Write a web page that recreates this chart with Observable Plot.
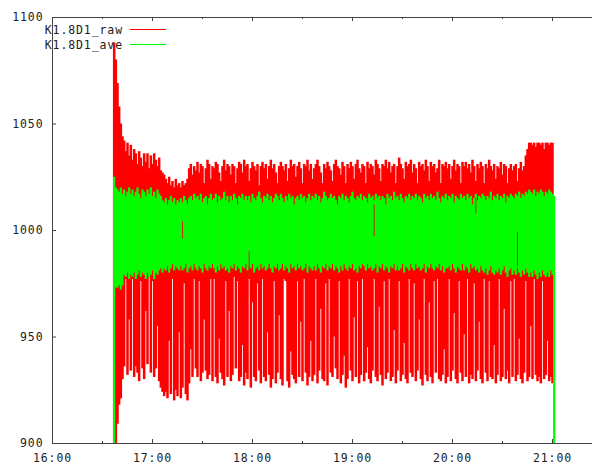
<!DOCTYPE html>
<html><head><meta charset="utf-8">
<script src="https://cdn.jsdelivr.net/npm/d3@7"></script>
<script src="https://cdn.jsdelivr.net/npm/@observablehq/plot@0.6"></script>
<style>
html,body{margin:0;padding:0;background:#fff;}
#wrap{position:relative;width:592px;height:465px;overflow:hidden;}
#wrap svg text{letter-spacing:0.9px;}
.lg{position:absolute;font:11.5px "DejaVu Sans Mono",monospace;letter-spacing:0.9px;color:#222;line-height:16px;white-space:nowrap;}
.lgt{position:absolute;right:469px;}
.lgl{position:absolute;left:130px;width:36px;height:1px;}
</style>
</head><body>
<div id="wrap"></div>
<script>
// time of first sample, minutes after 16:00; one sample per minute
const startMinute = 37;

// K1.8D1_raw: per-minute max and min
const rawHi = [
1088,1080,1069,1058,1050,1044,1042,1037,1041,1035,
1040,1033,1038,1036,1031,1037,1034,1030,1036,1032,
1036,1029,1035,1031,1036,1033,1030,1034,1028,1027,
1026,1024,1022,1025,1021,1023,1020,1024,1021,1022,
1020,1023,1021,1022,1024,1029,1031,1026,1030,1028,
1032,1027,1031,1030,1022,1029,1033,1031,1024,1030,
1029,1032,1031,1027,1023,1030,1033,1028,1031,1030,
1026,1031,1030,1022,1029,1032,1031,1027,1033,1030,
1031,1023,1029,1032,1030,1028,1031,1021,1030,1032,
1029,1031,1024,1030,1033,1029,1031,1027,1022,1030,
1032,1030,1028,1031,1023,1029,1033,1030,1031,1025,
1030,1032,1029,1022,1031,1030,1033,1028,1031,1024,
1029,1031,1033,1030,1027,1022,1031,1029,1032,1030,
1028,1023,1031,1033,1030,1029,1026,1032,1030,1022,
1031,1029,1032,1030,1024,1031,1033,1029,1027,1031,
1030,1022,1032,1029,1031,1030,1026,1033,1031,1029,
1023,1031,1030,1033,1029,1032,1027,1030,1031,1022,
1030,1034,1031,1029,1024,1032,1030,1031,1033,1027,
1031,1029,1022,1032,1030,1031,1028,1033,1030,1023,
1032,1030,1031,1027,1029,1033,1022,1031,1030,1032,
1029,1031,1024,1030,1033,1028,1031,1030,1022,1032,
1030,1032,1029,1031,1027,1033,1030,1023,1031,1029,
1032,1030,1022,1031,1029,1033,1030,1028,1031,1024,
1030,1029,1032,1026,1031,1030,1022,1029,1031,1028,
1030,1031,1023,1029,1032,1028,1030,1035,1038,1041,
1041,1040,1041,1039,1041,1041,1040,1041,1038,1041,
1041,1040,1041,1041
];
const rawLo = [
900,900,909,918,921,930,936,977,932,958,
934,977,931,936,933,929,976,935,930,962,
937,978,933,976,931,935,955,929,926,924,
922,924,921,948,923,977,920,925,922,952,
921,926,975,923,920,928,944,931,977,935,
931,976,929,933,958,934,930,932,977,929,
977,931,928,949,933,930,927,976,931,962,
929,932,978,935,976,929,931,946,927,933,
930,977,926,966,931,929,975,934,928,977,
931,929,952,932,926,930,976,928,933,960,
930,927,977,976,929,926,943,932,930,928,
976,931,957,929,977,933,927,931,948,929,
932,977,928,934,963,930,929,975,927,977,
933,931,950,935,930,976,928,932,941,926,
930,977,934,929,959,931,976,928,932,977,
929,933,945,930,928,934,977,931,929,964,
932,927,976,930,933,977,929,931,953,928,
934,976,929,932,947,930,928,977,933,931,
975,929,934,958,930,927,977,932,929,966,
931,928,976,933,977,930,929,932,944,928,
931,977,929,934,961,930,928,976,933,929,
951,931,977,928,932,930,975,929,934,957,
930,928,977,933,929,976,931,930,946,928,
932,977,929,931,963,930,934,928,976,931,
977,929,932,949,930,928,933,976,929,931,
955,930,977,932,929,931,928,976,930,932,
948,929,931,928
];

// K1.8D1_ave: per-minute max and min
const aveHi = [
1025,1020,1019,1018,1020,1017,1019,1016,1018,1020,
1017,1019,1016,1018,1020,1017,1015,1019,1018,1016,
1019,1017,1020,1016,1018,1015,1019,1017,1016,1014,
1013,1015,1012,1014,1016,1013,1015,1012,1014,1013,
1015,1013,1016,1014,1012,1015,1016,1014,1017,1015,
1016,1014,1017,1013,1015,1016,1012,1015,1017,1014,
1015,1017,1013,1016,1014,1015,1018,1014,1016,1013,
1016,1014,1017,1015,1012,1016,1015,1017,1014,1016,
1014,1016,1013,1017,1015,1014,1016,1018,1015,1013,
1016,1015,1017,1014,1016,1013,1015,1017,1016,1014,
1017,1015,1013,1016,1014,1017,1015,1016,1012,1015,
1016,1014,1017,1015,1016,1013,1015,1017,1014,1016,
1015,1017,1014,1016,1013,1015,1018,1016,1014,1015,
1017,1015,1016,1014,1012,1016,1015,1017,1014,1016,
1015,1013,1016,1018,1015,1014,1016,1015,1017,1014,
1016,1015,1013,1017,1015,1016,1014,1017,1015,1016,
1014,1016,1015,1012,1017,1015,1016,1014,1018,1015,
1016,1014,1017,1015,1013,1016,1015,1017,1014,1016,
1015,1017,1014,1016,1015,1013,1017,1015,1016,1014,
1017,1015,1016,1014,1018,1015,1013,1016,1015,1017,
1014,1016,1015,1017,1013,1016,1015,1014,1017,1015,
1016,1014,1017,1015,1016,1012,1015,1017,1014,1016,
1015,1017,1016,1014,1016,1015,1018,1014,1016,1015,
1017,1014,1016,1015,1017,1013,1016,1015,1017,1016,
1015,1017,1016,1018,1015,1017,1016,1018,1017,1019,
1018,1017,1019,1016,1018,1017,1019,1018,1016,1018,
1017,1019,1018,1017,1016
];
const aveLo = [
900,973,973,974,972,974,979,978,980,977,
979,978,980,977,979,981,978,980,979,977,
980,978,979,981,977,980,979,981,982,980,
982,981,983,980,982,984,981,983,982,981,
983,981,982,984,980,982,983,981,984,982,
981,983,982,980,984,982,981,983,982,984,
982,980,983,981,984,982,983,981,982,980,
983,982,984,981,983,982,980,983,982,984,
981,983,982,984,980,982,983,981,984,982,
983,981,982,984,982,980,983,982,984,981,
982,984,981,983,982,980,984,982,983,981,
984,982,983,981,982,984,980,983,982,981,
983,981,984,982,980,983,982,984,981,983,
982,984,981,983,982,980,983,981,984,982,
981,983,982,984,981,982,980,983,982,984,
983,981,984,982,983,981,982,984,980,983,
982,984,981,983,982,980,983,982,984,981,
983,981,982,984,980,983,982,981,984,982,
981,984,982,983,981,982,984,980,983,982,
984,982,981,983,982,984,981,983,980,982,
982,983,981,984,982,980,983,982,981,984,
981,983,982,980,984,982,983,981,982,980,
983,981,980,982,979,981,983,980,979,981,
980,982,979,981,983,980,978,981,982,979,
981,979,982,980,978,981,979,982,980,978,
980,978,981,979,977,980,978,981,979,978,
980,978,981,979,900
];

// a few raw excursions that show through the ave band
const dipMinute = [78, 118, 193, 254, 279];
const dipLo = [996, 978, 997, 1008, 983];
const dipHi = [1004, 990, 1012, 1015, 999];

// axis ticks (minutes after 16:00) and y ticks
const xMajorTicks = [0, 60, 120, 180, 240, 300];
const xMinorTicks = [30, 90, 150, 210, 270];
const xTickLabels = ["16:00", "17:00", "18:00", "19:00", "20:00", "21:00"];
const yTicks = [900, 950, 1000, 1050, 1100];
const seriesNames = ["K1.8D1_raw", "K1.8D1_ave"];
const seriesColors = ["#ff0000", "#00ff00"];

const raw = rawHi.map((h, i) => ({t: startMinute + i, hi: h, lo: rawLo[i]}));
const ave = aveHi.map((h, i) => ({t: startMinute + i, hi: h, lo: aveLo[i]}));
const dips = dipMinute.map((t, i) => ({t, lo: dipLo[i], hi: dipHi[i]}));

const axisColor = "#444";
const frameH = 465 - 17 - 22;
const frameW = 592 - 52;

const chart = Plot.plot({
  width: 592, height: 465,
  marginLeft: 52, marginRight: 0, marginTop: 17, marginBottom: 22,
  style: {fontFamily: "'DejaVu Sans Mono', monospace", fontSize: "11.5px", color: "#222", background: "white", overflow: "visible"},
  x: {domain: [0, 324], axis: null},
  y: {domain: [900, 1100], axis: null},
  marks: [
    Plot.ruleX(raw, {x: "t", y1: "lo", y2: "hi", stroke: seriesColors[0], strokeWidth: 2.5}),
    Plot.ruleX(ave, {x: "t", y1: "lo", y2: "hi", stroke: seriesColors[1], strokeWidth: 2.2}),
    Plot.ruleX(dips, {x: "t", y1: "lo", y2: "hi", stroke: "#c03000", strokeWidth: 1}),
    Plot.ruleY([900, 1100], {stroke: axisColor}),
    Plot.ruleX([0], {stroke: axisColor}),
    Plot.ruleX(xMajorTicks, {x: d => d, insetTop: frameH - 4, stroke: axisColor}),
    Plot.ruleX(xMajorTicks, {x: d => d, insetBottom: frameH - 4, stroke: axisColor}),
    Plot.ruleX(xMinorTicks, {x: d => d, insetTop: frameH - 2, stroke: axisColor}),
    Plot.ruleX(xMinorTicks, {x: d => d, insetBottom: frameH - 2, stroke: axisColor}),
    Plot.ruleY(yTicks, {y: d => d, insetRight: frameW - 4, stroke: axisColor}),
    Plot.axisX(xMajorTicks, {anchor: "bottom", label: null, tickSize: 0, tickPadding: 10, tickFormat: d => xTickLabels[xMajorTicks.indexOf(d)], fill: "#222"}),
    Plot.axisY(yTicks, {anchor: "left", label: null, tickSize: 0, tickPadding: 9, tickFormat: d => String(d), fill: "#222"})
  ]
});

const wrap = document.getElementById("wrap");
wrap.appendChild(chart);
seriesNames.forEach((name, i) => {
  const t = document.createElement("div");
  t.className = "lg lgt";
  t.style.top = (22 + i * 15) + "px";
  t.textContent = name;
  wrap.appendChild(t);
  const l = document.createElement("div");
  l.className = "lgl";
  l.style.top = (29 + i * 15) + "px";
  l.style.background = seriesColors[i];
  wrap.appendChild(l);
});
</script>
</body></html>
